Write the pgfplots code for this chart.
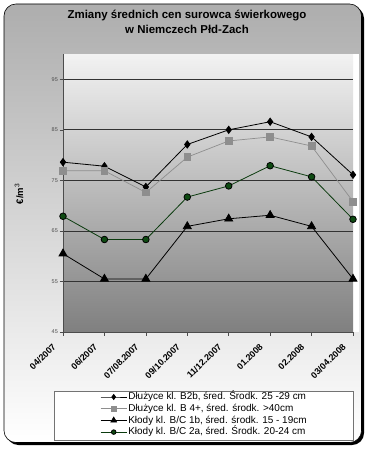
\documentclass[border=0pt]{standalone}
\usepackage{pgfplots}
\pgfplotsset{compat=1.18}
\usepackage{fontspec}
\setmainfont{Liberation Sans}
\definecolor{dgreen}{HTML}{0E4A12}
\definecolor{sgray}{HTML}{8E8E8E}
\pgfplotstableread{
x s1 s2 s3 s4
0 78.6 76.9 60.5 67.9
1 77.8 76.9 55.5 63.3
2 73.7 72.6 55.5 63.3
3 82.1 79.6 65.9 71.7
4 85.0 82.8 67.4 73.9
5 86.6 83.6 68.1 77.9
6 83.6 81.8 65.9 75.7
7 76.1 70.8 55.5 67.3
}\data
\begin{document}
\begin{tikzpicture}[x=1bp,y=1bp]
\useasboundingbox (0,0) rectangle (369,-450);
\fill[black, rounded corners=12] (6.5,-6.5) rectangle (364,-445);
\shade[top color=black!32, bottom color=white, rounded corners=12, draw=black, line width=0.6] (4,-4) rectangle (361.5,-442.5);
\node[font=\bfseries\fontsize{11.5}{15}\selectfont, align=center] at (187,-22) {Zmiany średnich cen surowca świerkowego\\w Niemczech Płd-Zach};
\node[rotate=90, font=\bfseries\fontsize{9.5}{10}\selectfont] at (19,-194) {€/m\textsuperscript{\mdseries 3}};
\draw[black!55, fill=white] (54,-391) rectangle (353,-440);
\fill[white] (353,-54) rectangle (359,-332);
\begin{axis}[
  at={(63bp,-332bp)}, anchor=south west,
  scale only axis, width=290bp, height=278bp,
  xmin=0, xmax=7, ymin=45, ymax=100,
  ytick={45,55,65,75,85,95},
  xtick={0,...,7},
  xticklabels={04/2007,06/2007,07/08.2007,09/10.2007,11/12.2007,01.2008,02.2008,03/04.2008},
  axis x line*=bottom, axis y line*=left,
  axis line style={black!70, line width=0.6pt, -},
  tick align=outside, major tick length=3.5bp,
  tick style={black!70, line width=0.5pt},
  ymajorgrids, grid style={black!80, line width=0.7pt},
  axis background/.style={shade, top color=black!5, bottom color=black!50},
  yticklabel style={font=\fontsize{5.5}{6}\selectfont, text=black!70, inner sep=1.5bp},
  xticklabel style={xshift=-8bp, yshift=-9bp, font=\bfseries\fontsize{9}{10}\selectfont, rotate=45, anchor=east, inner sep=1bp},
  /pgf/number format/assume math mode=true,
  clip=false,
  legend style={at={(axis description cs:0.128,-0.212)}, anchor=north west, draw=none, fill=none, inner sep=0pt,
    font=\fontsize{10}{10.5}\selectfont, row sep=0pt, cells={anchor=west},
    nodes={inner sep=1.2bp, text height=7.5bp, text depth=1.8bp}},
  legend image code/.code={\draw[mark repeat=2,mark phase=2,/tikz/every mark/.append style={scale=0.7}] plot coordinates {(0bp,0bp)(13bp,0bp)(26bp,0bp)};},
]
\addplot[black, line width=0.8pt, mark=diamond*, mark size=3.6bp, mark options={fill=black}] table[x=x,y=s1]{\data};
\addlegendentry{Dłużyce kl. B2b, śred. Środk. 25 -29 cm}
\addplot[sgray, line width=0.7pt, mark=square*, mark size=3.3bp, mark options={fill=sgray, draw=sgray}] table[x=x,y=s2]{\data};
\addlegendentry{Dłużyce kl. B 4+, śred. środk. >40cm}
\addplot[black, line width=0.8pt, mark=triangle*, mark size=4.6bp, mark options={fill=black}] table[x=x,y=s3]{\data};
\addlegendentry{Kłody kl. B/C 1b, śred. środk. 15 - 19cm}
\addplot[dgreen!80!black, line width=0.8pt, mark=*, mark size=3.3bp, mark options={fill=dgreen, draw=black}] table[x=x,y=s4]{\data};
\addlegendentry{Kłody kl. B/C 2a, śred. Środk. 20-24 cm}
\end{axis}
\end{tikzpicture}
\end{document}
